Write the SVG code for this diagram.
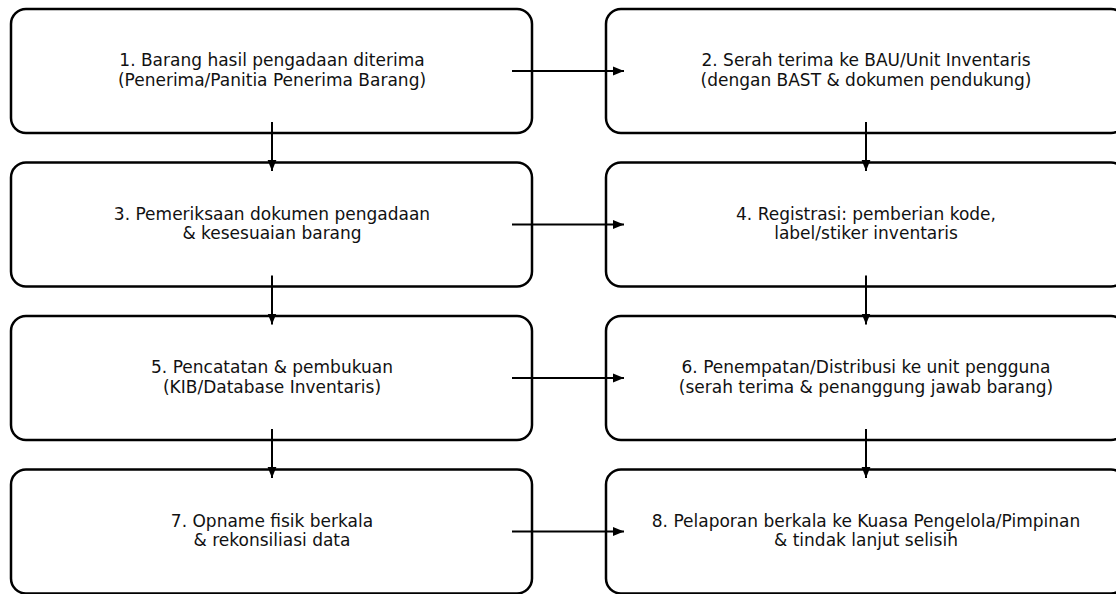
<svg xmlns="http://www.w3.org/2000/svg" width="1116" height="594" viewBox="0 0 1116 594">
<defs>
<marker id="ah" viewBox="0 0 10 10" refX="10" refY="5" markerWidth="11" markerHeight="11" markerUnits="userSpaceOnUse" orient="auto">
<path d="M0,1 L10,5 L0,9 Z" fill="#000"/>
</marker>
<style>
.box{fill:#fff;stroke:#000;stroke-width:2.5}
.t{font-family:"DejaVu Sans",sans-serif;font-size:17px;fill:#111;text-anchor:middle}
.c{stroke:#000;stroke-width:2;fill:none;marker-end:url(#ah)}
</style>
</defs>
<rect width="1116" height="594" fill="#fff"/>
<g id="n1"><rect class="box" x="11" y="9" width="521" height="124" rx="15"/><text class="t" x="272" y="66">1. Barang hasil pengadaan diterima</text><text class="t" x="272" y="85.5">(Penerima/Panitia Penerima Barang)</text></g>
<g id="n2"><rect class="box" x="606" y="9" width="520" height="124" rx="15"/><text class="t" x="866" y="66">2. Serah terima ke BAU/Unit Inventaris</text><text class="t" x="866" y="85.5">(dengan BAST &amp; dokumen pendukung)</text></g>
<g id="n3"><rect class="box" x="11" y="162.5" width="521" height="124" rx="15"/><text class="t" x="272" y="219.5">3. Pemeriksaan dokumen pengadaan</text><text class="t" x="272" y="239">&amp; kesesuaian barang</text></g>
<g id="n4"><rect class="box" x="606" y="162.5" width="520" height="124" rx="15"/><text class="t" x="866" y="219.5">4. Registrasi: pemberian kode,</text><text class="t" x="866" y="239">label/stiker inventaris</text></g>
<g id="n5"><rect class="box" x="11" y="316" width="521" height="124" rx="15"/><text class="t" x="272" y="373">5. Pencatatan &amp; pembukuan</text><text class="t" x="272" y="392.5">(KIB/Database Inventaris)</text></g>
<g id="n6"><rect class="box" x="606" y="316" width="520" height="124" rx="15"/><text class="t" x="866" y="373">6. Penempatan/Distribusi ke unit pengguna</text><text class="t" x="866" y="392.5">(serah terima &amp; penanggung jawab barang)</text></g>
<g id="n7"><rect class="box" x="11" y="469.5" width="521" height="124" rx="15"/><text class="t" x="272" y="526.5">7. Opname fisik berkala</text><text class="t" x="272" y="546">&amp; rekonsiliasi data</text></g>
<g id="n8"><rect class="box" x="606" y="469.5" width="520" height="124" rx="15"/><text class="t" x="866" y="526.5">8. Pelaporan berkala ke Kuasa Pengelola/Pimpinan</text><text class="t" x="866" y="546">&amp; tindak lanjut selisih</text></g>
<g id="connectors">
<line class="c" x1="512" y1="71" x2="624" y2="71"/>
<line class="c" x1="512" y1="224.5" x2="624" y2="224.5"/>
<line class="c" x1="512" y1="378" x2="624" y2="378"/>
<line class="c" x1="512" y1="531.5" x2="624" y2="531.5"/>
<line class="c" x1="272" y1="122" x2="272" y2="171"/>
<line class="c" x1="272" y1="275.5" x2="272" y2="324.5"/>
<line class="c" x1="272" y1="429" x2="272" y2="478"/>
<line class="c" x1="866" y1="122" x2="866" y2="171"/>
<line class="c" x1="866" y1="275.5" x2="866" y2="324.5"/>
<line class="c" x1="866" y1="429" x2="866" y2="478"/>
</g>
</svg>
